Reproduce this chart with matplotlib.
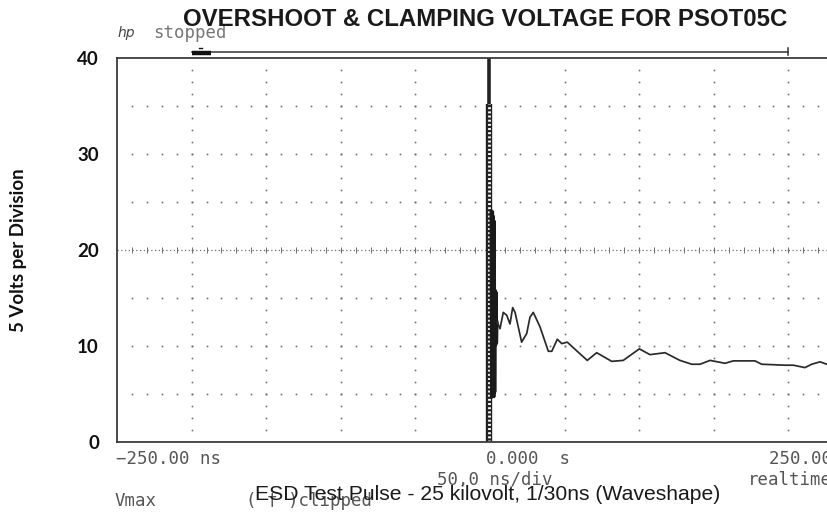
"""
Overshoot & clamping voltage for PSOT05C - scope screenshot redraw.
"""

import numpy as np
import matplotlib.pyplot as plt

# trace (time in ns, level in volts)
time_ns = [4.8, 6.7, 8.9, 11.2, 13.4, 15.2, 16.8, 21.2, 24.6, 26.8, 29.0, 33.5,
           39.1, 41.4, 45.1, 48.1, 51.8, 58.1, 65.2, 71.5, 81.6, 89.3, 100.1,
           107.2, 117.3, 127.3, 135.2, 140.8, 147.5, 157.5, 163.1, 177.6, 182.1,
           197.7, 203.3, 211.1, 215.6, 221.2, 225.7, 232.0]
volts = [12.5, 11.8, 13.5, 13.2, 12.3, 14.0, 13.5, 10.4, 11.3, 13.0, 13.5, 12.0,
         9.45, 9.45, 10.7, 10.25, 10.4, 9.5, 8.5, 9.3, 8.4, 8.5, 9.7,
         9.1, 9.3, 8.5, 8.1, 8.1, 8.5, 8.2, 8.45, 8.45, 8.1,
         8.0, 8.0, 7.75, 8.1, 8.35, 8.1, 8.2]

# the fast ESD burst right after the trigger
spike_t = [0.6, 0.9, 1.2, 1.5, 1.8, 2.1, 2.4, 2.7, 3.0, 3.3, 3.6, 3.9, 4.2, 4.5,
           4.8]
spike_v = [24.1, 4.6, 23.8, 4.8, 24.0, 5.0, 23.5, 4.7, 23.0, 5.2, 15.8, 10.1,
           15.6, 10.3, 12.5]

y_ticks = [0, 10, 20, 30, 40]
title = "OVERSHOOT & CLAMPING VOLTAGE FOR PSOT05C"
caption = "ESD Test Pulse - 25 kilovolt, 1/30ns (Waveshape)"

W, H = 828, 517
fig = plt.figure(figsize=(W / 100, H / 100), dpi=100)
# screen runs past the right edge of the picture, like in the original crop
ax = fig.add_axes([117 / W, 1 - 442 / H, 746 / W, 384 / H])
ax.set_xlim(-250, 250)
ax.set_ylim(0, 40)

grid_col = '#707070'
# dotted graticule: horizontal lines (minor dot every 10 ns)
dot_t = np.arange(-240, 250, 10)
for v in [5, 10, 15, 25, 30, 35]:
    ax.plot(dot_t, np.full(dot_t.shape, v), ls='none', marker='s', ms=1.2,
            mec='none', mfc=grid_col)
# vertical lines (minor dot every 1.25 V)
dot_v = np.arange(1.25, 40, 1.25)
for t in [-200, -150, -100, -50, 50, 100, 150, 200]:
    ax.plot(np.full(dot_v.shape, t), dot_v, ls='none', marker='s', ms=1.2,
            mec='none', mfc=grid_col)
# centre line, denser with small ticks
ax.plot([-250, 250], [20, 20], color=grid_col, lw=0.9, ls=(0, (1, 2)))
ax.plot(dot_t, np.full(dot_t.shape, 20), ls='none', marker='|', ms=5,
        mew=0.7, color=grid_col)

# trigger marker at t=0 (solid on top, ladder below)
ax.plot([-1, -1], [35.2, 40], color='#222', lw=2.6, solid_capstyle='butt')
ax.plot([-1, -1], [0, 35.2], color='#222', lw=4.6, solid_capstyle='butt')
ax.plot([-1, -1], [0, 35.2], color='white', lw=2.0, ls=(0, (0.7, 0.8)))

# waveform
ax.plot(spike_t, spike_v, color='#1a1a1a', lw=2.0)
ax.plot(time_ns, volts, color='#2a2a2a', lw=1.25)

for s in ax.spines.values():
    s.set_color('#3c3c3c')
    s.set_linewidth(1.3)

ax.set_xticks([])
ax.set_yticks(y_ticks)
ax.set_yticklabels([str(v) for v in y_ticks], fontfamily='Lato',
                   fontweight='bold', fontsize=13.5, color='#111')
ax.tick_params(axis='y', length=0, pad=13)
ax.set_ylabel("5 Volts per Division", fontfamily='Lato', fontweight='bold',
              fontsize=13.5, color='#111', labelpad=36)

# time window bar above the screen
ax.plot([-200, 200], [40.65, 40.65], color='#333', lw=1.1, clip_on=False)
ax.plot([200, 200], [40.3, 41.0], color='#333', lw=1.1, clip_on=False)
ax.plot([-200, -187], [40.5, 40.5], color='#111', lw=3.2, clip_on=False,
        solid_capstyle='butt')
ax.plot([-195, -193], [41.0, 41.0], color='#111', lw=1.0, clip_on=False)

mono = dict(fontfamily='DejaVu Sans Mono', color='#555', fontsize=12.5)
fig.text(118 / W, 1 - 33 / H, "hp", fontfamily='DejaVu Sans', style='italic',
         fontsize=10, color='#444', va='center')
fig.text(153 / W, 1 - 33 / H, "stopped", va='center', alpha=0.8, **mono)
fig.text(485 / W, 1 - 19 / H, title, ha='center', va='center',
         fontfamily='Liberation Sans', fontweight='bold', fontsize=17.3,
         color='#1a1a1a')

fig.text(116 / W, 1 - 459 / H, "\u2212250.00 ns", va='center', **mono)
fig.text(486 / W, 1 - 459 / H, "0.000  s", va='center', **mono)
fig.text(864 / W, 1 - 459 / H, "250.00 ns", va='center', ha='right', **mono)
fig.text(437 / W, 1 - 480 / H, "50.0 ns/div", va='center', **mono)
fig.text(748 / W, 1 - 480 / H, "realtime", va='center', **mono)
fig.text(115 / W, 1 - 501 / H, "Vmax", va='center', **mono)
fig.text(246 / W, 1 - 501 / H, "( \u2020 )clipped", va='center', **mono)
fig.text(488 / W, 1 - 494 / H, caption, ha='center', va='center',
         fontfamily='Liberation Sans', fontsize=15.2, color='#1a1a1a')

fig.savefig('out.png', dpi=100)
